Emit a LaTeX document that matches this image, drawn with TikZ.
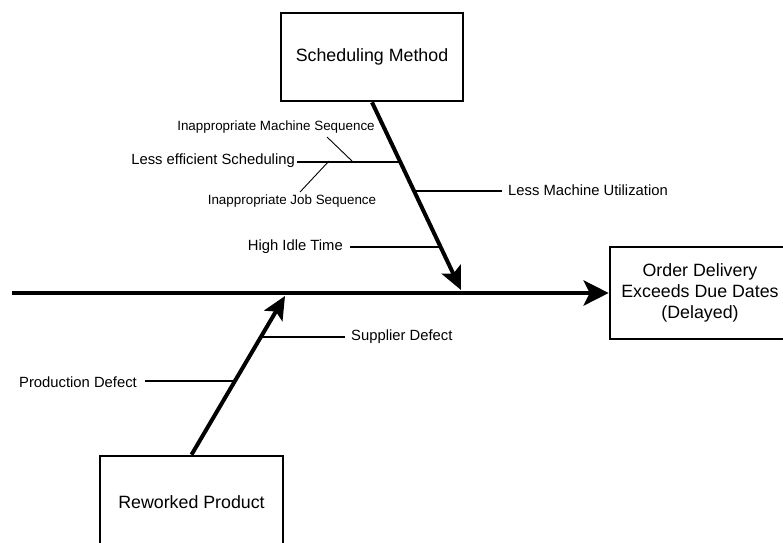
\documentclass[tikz,border=0pt]{standalone}
\usepackage{fontspec}
\setmainfont{Liberation Sans}
\usetikzlibrary{arrows.meta,calc}

\tikzset{
  causebox/.style={draw=black, line width=2.6pt, fill=white, inner sep=0pt,
    align=center, font=\fontsize{17.8}{21}\selectfont},
  spine/.style={line width=4.5pt},
  bone/.style={line width=4pt},
  twig/.style={line width=2pt},
  hair/.style={line width=0.9pt},
  biglabel/.style={inner sep=0pt, font=\fontsize{14.8}{17}\selectfont},
  smalllabel/.style={inner sep=0pt, font=\fontsize{13.4}{16}\selectfont},
}

\begin{document}
\begin{tikzpicture}[x=1pt, y=-1pt]
  \useasboundingbox (0,0) rectangle (783,542);
  \clip (0,0) rectangle (783,542);

  % cause and effect boxes
  \node[causebox, minimum width=182pt, minimum height=88pt] (sched) at (372,57) {Scheduling Method};
  \node[causebox, minimum width=183pt, minimum height=92pt] (rework) at (191.5,502) {Reworked Product};
  \node[causebox, minimum width=180pt, minimum height=92pt] (order) at (700,293)
       {Order Delivery\\Exceeds Due Dates\\(Delayed)};

  % main spine
  \coordinate (tail) at (12,293);
  \draw[spine, -{Stealth[length=25pt, width=25pt, inset=6pt]}] (tail) -- (order.west);

  % scheduling bone
  \coordinate (stip) at (461,290);
  \draw[bone, -{Stealth[length=23pt, width=21pt, inset=5pt]}] (sched.south) -- (stip);
  \coordinate (b1) at ($(sched.south)!0.317!(stip)$);
  \coordinate (b2) at ($(sched.south)!0.471!(stip)$);
  \coordinate (b3) at ($(sched.south)!0.772!(stip)$);

  % rework bone
  \coordinate (rtip) at (285,296);
  \draw[bone, -{Stealth[length=23pt, width=21pt, inset=5pt]}] (rework.north) -- (rtip);
  \coordinate (r1) at ($(rework.north)!0.744!(rtip)$);
  \coordinate (r2) at ($(rework.north)!0.4625!(rtip)$);

  % labels on the scheduling bone
  \node[biglabel, anchor=east] (lse) at (295,161) {Less efficient Scheduling};
  \node[biglabel, anchor=west] (lmu) at (508,190) {Less Machine Utilization};
  \node[biglabel, anchor=east] (hit) at (343,247) {High Idle Time};
  \node[smalllabel] (ims) at (276,127) {Inappropriate Machine Sequence};
  \node[smalllabel] (ijs) at (292,201) {Inappropriate Job Sequence};

  \draw[twig] ([xshift=2pt]lse.east |- b1) -- (b1);
  \draw[twig] (b2) -- ([xshift=-6pt]lmu.west |- b2);
  \draw[twig] ([xshift=7pt]hit.east |- b3) -- (b3);

  % sub-causes of less efficient scheduling
  \coordinate (msa) at (352,161);
  \coordinate (msb) at (327,137);
  \coordinate (jsa) at (329,161);
  \coordinate (jsb) at (300,192);
  \draw[hair] (msa) -- (msb);
  \draw[hair] (jsa) -- (jsb);

  % labels on the rework bone
  \node[biglabel, anchor=west] (sup) at (351,337) {Supplier Defect};
  \node[biglabel, anchor=east] (prod) at (137,382) {Production Defect};
  \draw[twig] (r1) -- ([xshift=-6pt]sup.west |- r1);
  \draw[twig] ([xshift=8pt]prod.east |- r2) -- (r2);
\end{tikzpicture}
\end{document}
